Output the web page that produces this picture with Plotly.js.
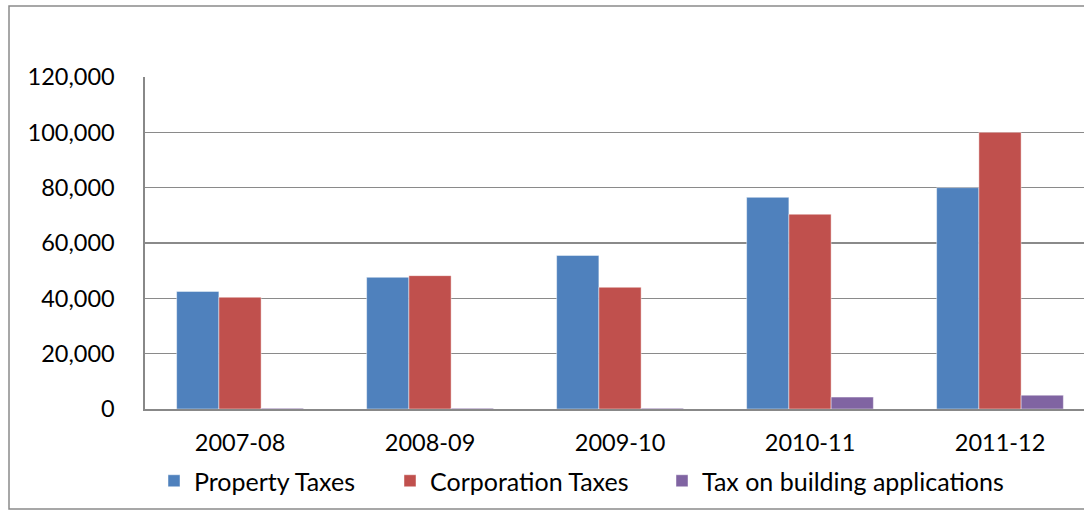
<!DOCTYPE html>
<html>
<head>
<meta charset="utf-8">
<script src="https://cdn.plot.ly/plotly-3.0.1.min.js"></script>
<style>
html,body{margin:0;padding:0;background:#fff;overflow:hidden;}
#chart{width:1084px;height:510px;}
</style>
</head>
<body>
<div id="chart"></div>
<script>
const categories = ["2007-08", "2008-09", "2009-10", "2010-11", "2011-12"];
const propertyTaxes = [42500, 47600, 55500, 76500, 80000];
const corporationTaxes = [40400, 48200, 44000, 70400, 100000];
const buildingTax = [300, 300, 300, 4300, 5000];
const seriesNames = ["Property Taxes", "Corporation Taxes", "Tax on building applications"];
const yTicks = [0, 20000, 40000, 60000, 80000, 100000, 120000];

const FONT = "Lato, 'Open Sans', sans-serif";
const colors = ["#4F81BD", "#C0504D", "#8064A2"];
const lineCol = "rgba(255,255,255,0.45)";

const traces = [
  {type: "bar", name: seriesNames[0], x: categories, y: propertyTaxes,
   marker: {color: colors[0], line: {color: lineCol, width: 1}}, legend: "legend"},
  {type: "bar", name: seriesNames[1], x: categories, y: corporationTaxes,
   marker: {color: colors[1], line: {color: lineCol, width: 1}}, legend: "legend2"},
  {type: "bar", name: seriesNames[2], x: categories, y: buildingTax,
   marker: {color: colors[2], line: {color: lineCol, width: 1}}, legend: "legend3"}
];

const W = 1084, H = 510;
const L = 145, T = 77, B = 101, R = 0;
const plotW = W - L - R, plotH = H - T - B;
const catW = 190;
const xMax = -0.5 + plotW / catW;

function px2paperX(p){ return (p - L) / plotW; }
function px2paperY(p){ return (H - B - p) / plotH; }

const legCommon = {
  orientation: "h", xref: "container", yref: "container",
  yanchor: "middle", xanchor: "left", y: 1 - 481 / H,
  font: {family: FONT, size: 25, color: "#000"},
  bgcolor: "rgba(0,0,0,0)", borderwidth: 0, itemclick: false
};

const layout = {
  width: W, height: H,
  margin: {l: L, r: R, t: T, b: B, pad: 0},
  paper_bgcolor: "#fff", plot_bgcolor: "#fff",
  barmode: "group", bargap: 0.333, bargroupgap: 0,
  font: {family: FONT, size: 23, color: "#000"},
  showlegend: true,
  legend: Object.assign({}, legCommon, {x: 154 / W}),
  legend2: Object.assign({}, legCommon, {x: 390 / W}),
  legend3: Object.assign({}, legCommon, {x: 662 / W}),
  xaxis: {
    type: "category", range: [-0.5, xMax], fixedrange: true,
    showgrid: false, showline: true, linecolor: "#888", linewidth: 1.6,
    ticks: "", ticklabelstandoff: 12,
    tickfont: {family: FONT, size: 23.5, color: "#000"}, zeroline: false
  },
  yaxis: {
    range: [0, 120000], tickvals: yTicks, tickformat: ",d", fixedrange: true,
    showgrid: true, gridcolor: "#8a8a8a", gridwidth: 1.6,
    showline: true, linecolor: "#888", linewidth: 1.6, zeroline: false,
    ticks: "", ticklabelstandoff: 24,
    tickfont: {family: FONT, size: 23.5, color: "#000"}
  },
  shapes: [
    {type: "rect", xref: "paper", yref: "paper",
     x0: px2paperX(9), x1: px2paperX(1200), y0: px2paperY(509), y1: px2paperY(6),
     line: {color: "#8a8a8a", width: 1.5}, fillcolor: "rgba(0,0,0,0)", layer: "below"}
  ]
};

Plotly.newPlot("chart", traces, layout, {displayModeBar: false, staticPlot: true});
</script>
</body>
</html>
